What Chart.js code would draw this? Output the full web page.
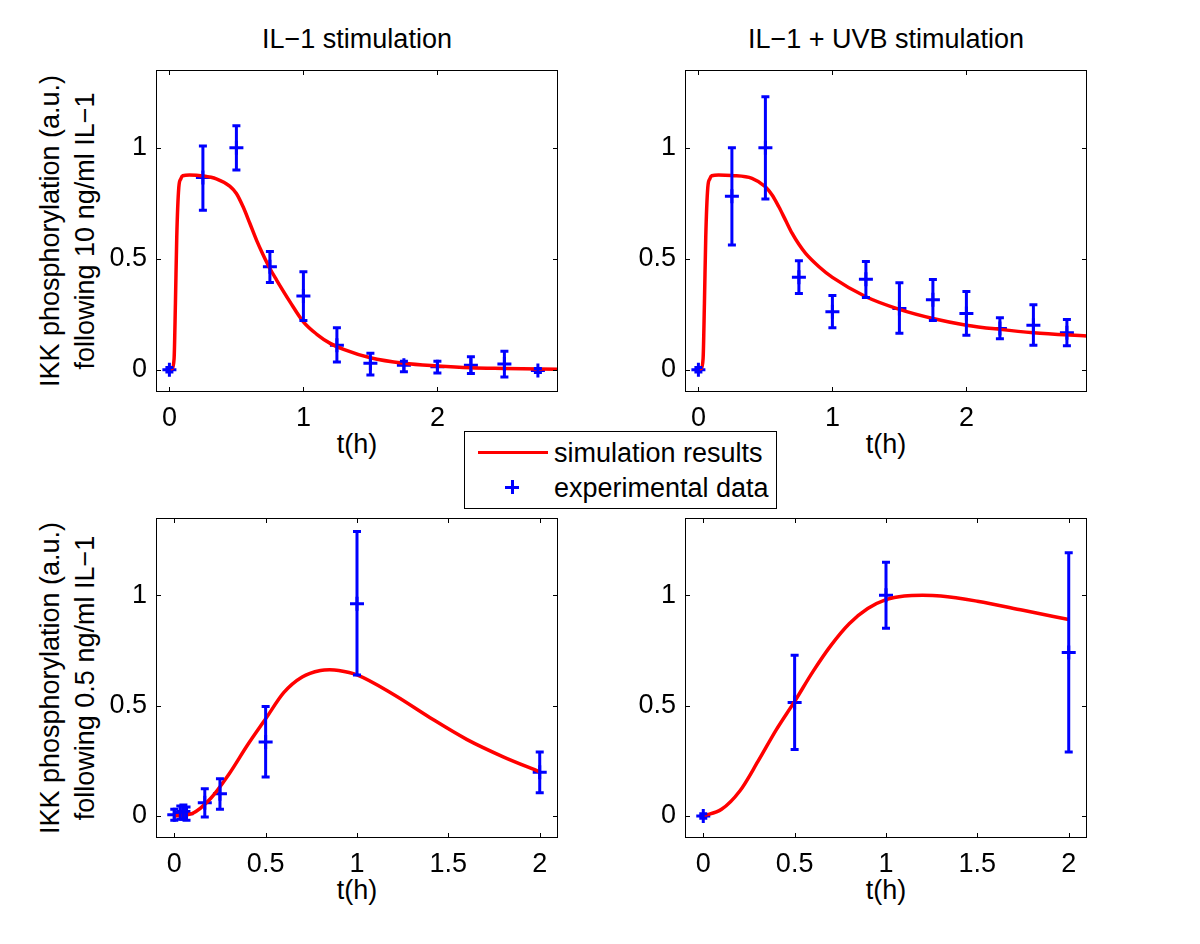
<!DOCTYPE html>
<html>
<head>
<meta charset="utf-8">
<script src="https://cdn.jsdelivr.net/npm/chart.js@4.4.1/dist/chart.umd.min.js"></script>
<style>
  html, body { margin: 0; padding: 0; background: #fff; }
  body { width: 1200px; height: 944px; position: relative; overflow: hidden;
         font-family: "Liberation Sans", Arial, Helvetica, sans-serif; color: #000; }
  canvas { position: absolute; }
  .title, .xlab { position: absolute; font-size: 27px; line-height: 30px; text-align: center; width: 400px; white-space: nowrap; }
  .ylab { position: absolute; font-size: 27px; line-height: 35px; text-align: center; width: 420px; height: 70px;
          transform: rotate(-90deg); white-space: nowrap; }
  #legend { position: absolute; left: 464px; top: 431px; width: 311px; height: 76px; border: 1px solid #000;
            background: #fff; z-index: 5; font-size: 27px; }
  #legend .row { position: absolute; left: 89px; line-height: 30px; white-space: nowrap; }
  #legend .line { position: absolute; left: 13px; top: 19px; width: 70px; height: 3px; background: #ff0000; }
  #legend .plus-h { position: absolute; left: 40px; top: 54px; width: 14px; height: 3px; background: #0000ff; }
  #legend .plus-v { position: absolute; left: 46px; top: 48px; width: 3px; height: 14px; background: #0000ff; }
</style>
</head>
<body>

<div class="title" style="left:157px; top:24px;">IL−1 stimulation</div>
<div class="title" style="left:686px; top:24px;">IL−1 + UVB stimulation</div>

<div class="ylab" style="left:-142px; top:196px;">IKK phosphorylation (a.u.)<br>following 10 ng/ml IL−1</div>
<div class="ylab" style="left:-142px; top:643px;">IKK phosphorylation (a.u.)<br>following 0.5 ng/ml IL−1</div>

<div class="xlab" style="left:157px; top:429px;">t(h)</div>
<div class="xlab" style="left:686px; top:429px;">t(h)</div>
<div class="xlab" style="left:157px; top:875px;">t(h)</div>
<div class="xlab" style="left:686px; top:875px;">t(h)</div>

<canvas id="c1" width="512" height="382" style="left:56px; top:60px;"></canvas>
<canvas id="c2" width="512" height="382" style="left:585px; top:60px;"></canvas>
<canvas id="c3" width="512" height="380" style="left:56px; top:508px;"></canvas>
<canvas id="c4" width="512" height="380" style="left:585px; top:508px;"></canvas>

<div id="legend">
  <div class="line"></div>
  <div class="row" style="top:6px;">simulation results</div>
  <div class="plus-h"></div><div class="plus-v"></div>
  <div class="row" style="top:41px;">experimental data</div>
</div>

<script>
// tick labels
const yTicks = [0, 0.5, 1];
const xTicksTop = [0, 1, 2];
const xTicksBottom = [0, 0.5, 1, 1.5, 2];

// IL-1 stimulation, 10 ng/ml
const tlTime = [0, 0.25, 0.5, 0.75, 1, 1.25, 1.5, 1.75, 2, 2.25, 2.5, 2.75];
const tlMean = [0, 0.866, 1.0, 0.464, 0.332, 0.111, 0.029, 0.02, 0.014, 0.021, 0.026, -0.003];
const tlLow  = [-0.01, 0.719, 0.9, 0.393, 0.222, 0.035, -0.024, -0.009, -0.014, -0.017, -0.032, -0.012];
const tlHigh = [0.01, 1.008, 1.099, 0.533, 0.441, 0.189, 0.074, 0.039, 0.039, 0.059, 0.083, 0.006];
const tlSimT = [0, 0.02, 0.035, 0.045, 0.055, 0.07, 0.085, 0.1, 0.15, 0.25, 0.35, 0.45, 0.5, 0.55, 0.6, 0.65,
                0.7, 0.75, 0.8, 0.9, 1.0, 1.1, 1.2, 1.3, 1.5, 1.75, 2, 2.25, 2.5, 2.9];
const tlSimY = [0, 0.005, 0.05, 0.3, 0.6, 0.82, 0.86, 0.874, 0.877, 0.873, 0.86, 0.827, 0.794, 0.734, 0.66, 0.584,
                0.517, 0.456, 0.404, 0.306, 0.216, 0.16, 0.119, 0.092, 0.054, 0.029, 0.017, 0.009, 0.006, 0.002];

// IL-1 + UVB stimulation, 10 ng/ml
const trTime = [0, 0.25, 0.5, 0.75, 1, 1.25, 1.5, 1.75, 2, 2.25, 2.5, 2.75];
const trMean = [0, 0.782, 1.0, 0.417, 0.261, 0.408, 0.276, 0.315, 0.254, 0.186, 0.201, 0.167];
const trLow  = [-0.01, 0.562, 0.769, 0.344, 0.189, 0.326, 0.164, 0.222, 0.156, 0.14, 0.111, 0.108];
const trHigh = [0.01, 1.0, 1.23, 0.491, 0.335, 0.488, 0.392, 0.407, 0.353, 0.234, 0.293, 0.227];
const trSimT = [0, 0.02, 0.035, 0.045, 0.055, 0.07, 0.085, 0.1, 0.15, 0.25, 0.4, 0.5, 0.55, 0.6, 0.65, 0.7,
                0.75, 0.8, 0.9, 1.0, 1.25, 1.5, 1.75, 2, 2.25, 2.5, 2.9];
const trSimY = [0, 0.005, 0.05, 0.3, 0.6, 0.82, 0.86, 0.874, 0.877, 0.875, 0.862, 0.824, 0.787, 0.734, 0.674, 0.614,
                0.565, 0.524, 0.464, 0.416, 0.329, 0.272, 0.231, 0.201, 0.182, 0.167, 0.152];

// IL-1 stimulation, 0.5 ng/ml
const blTime = [0, 0.033, 0.05, 0.067, 0.167, 0.25, 0.5, 1, 2];
const blMean = [0.005, 0.015, 0.02, 0.01, 0.06, 0.101, 0.335, 0.962, 0.198];
const blLow  = [-0.02, -0.015, -0.015, -0.02, -0.005, 0.03, 0.176, 0.639, 0.105];
const blHigh = [0.03, 0.045, 0.05, 0.04, 0.123, 0.168, 0.496, 1.289, 0.29];
const blSimT = [0, 0.1, 0.2, 0.3, 0.4, 0.5, 0.6, 0.7, 0.8, 0.85, 0.9, 1.0, 1.2, 1.4, 1.6, 1.8, 2.0];
const blSimY = [0, 0.012, 0.08, 0.19, 0.32, 0.44, 0.56, 0.63, 0.659, 0.662, 0.659, 0.639, 0.55, 0.445, 0.347, 0.268, 0.2];

// IL-1 + UVB stimulation, 0.5 ng/ml
const brTime = [0, 0.5, 1, 2];
const brMean = [0, 0.514, 1.0, 0.741];
const brLow  = [-0.01, 0.301, 0.85, 0.29];
const brHigh = [0.01, 0.728, 1.15, 1.192];
const brSimT = [0, 0.1, 0.2, 0.3, 0.4, 0.5, 0.6, 0.7, 0.8, 0.9, 1.0, 1.1, 1.2, 1.3, 1.5, 1.75, 2.0];
const brSimY = [0, 0.03, 0.113, 0.248, 0.391, 0.519, 0.654, 0.774, 0.872, 0.94, 0.98, 0.997, 1.0, 0.997, 0.973, 0.932, 0.89];

const RED = '#ff0000';
const BLUE = '#0000ff';
const FONT = { family: '"Liberation Sans", Arial, Helvetica, sans-serif', size: 27 };

// matlab style box with inward ticks on all sides
const boxPlugin = {
    id: 'box',
    afterDraw(chart) {
        const { ctx, chartArea: a, scales } = chart;
        ctx.save();
        ctx.strokeStyle = '#000';
        ctx.lineWidth = 1;
        ctx.strokeRect(Math.round(a.left) + 0.5, Math.round(a.top) + 0.5,
                       Math.round(a.right - a.left) - 1, Math.round(a.bottom - a.top) - 1);
        ctx.beginPath();
        scales.x.ticks.forEach(t => {
            const px = Math.round(scales.x.getPixelForValue(t.value)) + 0.5;
            ctx.moveTo(px, a.bottom); ctx.lineTo(px, a.bottom - 5);
            ctx.moveTo(px, a.top);    ctx.lineTo(px, a.top + 5);
        });
        scales.y.ticks.forEach(t => {
            const py = Math.round(scales.y.getPixelForValue(t.value)) + 0.5;
            ctx.moveTo(a.left, py);  ctx.lineTo(a.left + 5, py);
            ctx.moveTo(a.right, py); ctx.lineTo(a.right - 5, py);
        });
        ctx.stroke();
        ctx.restore();
    }
};

const errorBarPlugin = {
    id: 'errorBars',
    afterDatasetsDraw(chart) {
        const { ctx, scales: { x, y } } = chart;
        chart.data.datasets.forEach(ds => {
            if (!ds.errLow) return;
            ctx.save();
            ctx.strokeStyle = BLUE;
            ctx.lineWidth = 3;
            ds.data.forEach((p, i) => {
                const px = x.getPixelForValue(p.x);
                const top = y.getPixelForValue(ds.errHigh[i]);
                const bot = y.getPixelForValue(ds.errLow[i]);
                ctx.beginPath();
                ctx.moveTo(px, top); ctx.lineTo(px, bot);
                ctx.moveTo(px - 4, top); ctx.lineTo(px + 4, top);
                ctx.moveTo(px - 4, bot); ctx.lineTo(px + 4, bot);
                ctx.stroke();
            });
            ctx.restore();
        });
    }
};

function makePanel(id, simT, simY, time, mean, low, high, xMax, xTicks) {
    const fixTicks = arr => scale => { scale.ticks = arr.map(v => ({ value: v })); };
    new Chart(document.getElementById(id), {
        type: 'scatter',
        data: {
            datasets: [
                {
                    type: 'line',
                    data: simT.map((t, i) => ({ x: t, y: simY[i] })),
                    borderColor: RED,
                    borderWidth: 3.5,
                    pointRadius: 0,
                    cubicInterpolationMode: 'monotone',
                    fill: false
                },
                {
                    data: time.map((t, i) => ({ x: t, y: mean[i] })),
                    errLow: low,
                    errHigh: high,
                    pointStyle: 'cross',
                    pointRadius: 7,
                    pointHoverRadius: 7,
                    borderColor: BLUE,
                    borderWidth: 3,
                    showLine: false
                }
            ]
        },
        options: {
            responsive: false,
            animation: false,
            events: [],
            layout: { padding: { top: 10, right: 10, left: 0, bottom: 0 } },
            plugins: { legend: { display: false }, tooltip: { enabled: false } },
            scales: {
                x: {
                    type: 'linear',
                    min: -0.1,
                    max: xMax,
                    afterBuildTicks: fixTicks(xTicks),
                    afterFit: s => { s.height = 50; s.paddingLeft = 0; s.paddingRight = 0; },
                    grid: { display: false, drawTicks: false },
                    border: { display: false },
                    ticks: { color: '#000', font: FONT, padding: 10, maxRotation: 0, callback: v => String(v) }
                },
                y: {
                    min: -0.1,
                    max: 1.35,
                    afterBuildTicks: fixTicks(yTicks),
                    afterFit: s => { s.width = 100; s.paddingTop = 0; s.paddingBottom = 0; },
                    grid: { display: false, drawTicks: false },
                    border: { display: false },
                    ticks: { color: '#000', font: FONT, padding: 9, callback: v => String(v) }
                }
            }
        },
        plugins: [boxPlugin, errorBarPlugin]
    });
}

makePanel('c1', tlSimT, tlSimY, tlTime, tlMean, tlLow, tlHigh, 2.9, xTicksTop);
makePanel('c2', trSimT, trSimY, trTime, trMean, trLow, trHigh, 2.9, xTicksTop);
makePanel('c3', blSimT, blSimY, blTime, blMean, blLow, blHigh, 2.1, xTicksBottom);
makePanel('c4', brSimT, brSimY, brTime, brMean, brLow, brHigh, 2.1, xTicksBottom);
</script>
</body>
</html>
